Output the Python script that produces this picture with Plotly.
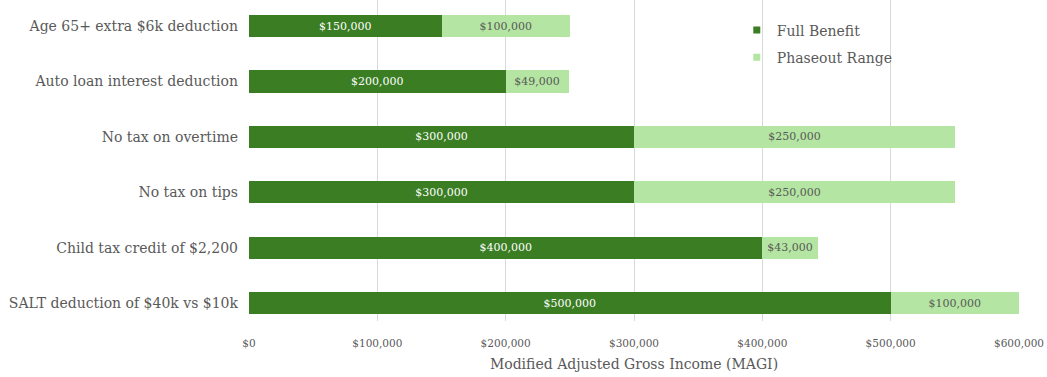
import plotly.graph_objects as go

categories = ["Age 65+ extra $6k deduction", "Auto loan interest deduction", "No tax on overtime",
              "No tax on tips", "Child tax credit of $2,200", "SALT deduction of $40k vs $10k"]
full_benefit = [150000, 200000, 300000, 300000, 400000, 500000]
phaseout = [100000, 49000, 250000, 250000, 43000, 100000]
x_ticks = [0, 100000, 200000, 300000, 400000, 500000, 600000]
x_tick_labels = ["$0", "$100,000", "$200,000", "$300,000", "$400,000", "$500,000", "$600,000"]

FONT = "DejaVu Serif"
GRAY = "#595959"
DARK = "#3A7D22"
LIGHT = "#B4E5A2"

fig = go.Figure()
fig.add_trace(go.Bar(
    y=categories, x=full_benefit, orientation="h", name="Full Benefit",
    marker=dict(color=DARK, line=dict(width=0)), showlegend=False,
    texttemplate="$%{x:,}", textposition="inside", insidetextanchor="middle",
    textangle=0, constraintext="none",
    textfont=dict(family=FONT, size=11, color="white"),
))
fig.add_trace(go.Bar(
    y=categories, x=phaseout, orientation="h", name="Phaseout Range",
    marker=dict(color=LIGHT, line=dict(width=0)), showlegend=False,
    texttemplate="$%{x:,}", textposition="inside", insidetextanchor="middle",
    textangle=0, constraintext="none",
    textfont=dict(family=FONT, size=11, color=GRAY),
))
# legend entries (small square swatches)
for nm, col in [("Full Benefit", DARK), ("Phaseout Range", LIGHT)]:
    fig.add_trace(go.Scatter(
        x=[None], y=[None], mode="markers", name=nm, legendgroup=nm,
        marker=dict(symbol="square", size=7, color=col),
    ))

fig.update_layout(
    barmode="stack", bargap=0.6,
    width=1047, height=377,
    margin=dict(l=249, r=28, t=0, b=56, autoexpand=False),
    plot_bgcolor="white", paper_bgcolor="white",
    font=dict(family=FONT, color=GRAY, size=13),
    legend=dict(x=0.6335, y=0.955, xanchor="left", yanchor="top",
                font=dict(family=FONT, size=14, color=GRAY), traceorder="grouped",
                bgcolor="rgba(0,0,0,0)", itemwidth=30, tracegroupgap=6),
    xaxis=dict(range=[0, 600000], tickvals=x_ticks, ticktext=x_tick_labels,
               showgrid=True, gridcolor="#D9D9D9", gridwidth=1, zeroline=False,
               showline=False, ticks="", automargin=False, ticklabelstandoff=14,
               tickfont=dict(size=10.5, color=GRAY),
               title=dict(text="Modified Adjusted Gross Income (MAGI)",
                          font=dict(size=14, color=GRAY), standoff=11)),
    yaxis=dict(range=[5.325, -0.47], showgrid=False, ticks="", ticklen=0,
               automargin=False, ticklabelstandoff=10,
               tickfont=dict(size=14, color=GRAY), showline=False),
)

fig.write_html("out.html", config={"displayModeBar": False},
               post_script="document.body.style.margin='0';")
